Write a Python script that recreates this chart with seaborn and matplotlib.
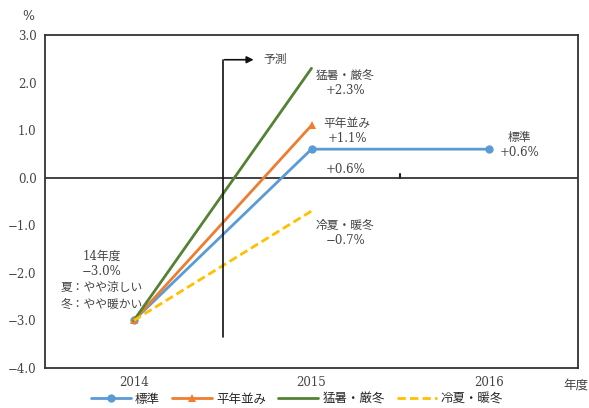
import matplotlib
matplotlib.use("Agg")
import matplotlib.pyplot as plt
import seaborn as sns
import pandas as pd

years = ["2014", "2015", "2016"]
series_names = ["標準", "平年並み", "猛暑・厳冬", "冷夏・暖冬"]
hyojun = [-3.0, 0.6, 0.6]
heinen = [-3.0, 1.1, None]
mosho = [-3.0, 2.3, None]
reika = [-3.0, -0.7, None]
yticks = [3.0, 2.0, 1.0, 0.0, -1.0, -2.0, -3.0, -4.0]

colors = ["#5B9BD5", "#ED7D31", "#548235", "#FFC000"]
markers = ["o", "^", None, None]
dashes = [None, None, None, (3, 1.5)]

sns.set_theme(style="white")
fam = ["DejaVu Serif", "Noto Sans CJK JP", "DejaVu Sans"]
plt.rcParams["font.family"] = fam
plt.rcParams["axes.unicode_minus"] = True

fig = plt.figure(figsize=(5.89, 4.08), dpi=100)
ax = fig.add_axes([45 / 589, 40 / 408, (578 - 45) / 589, (368 - 35) / 408])

handles = []
for name, vals, c, m, d in zip(series_names, [hyojun, heinen, mosho, reika], colors, markers, dashes):
    sub = pd.DataFrame({"年度": [y for y, v in zip(years, vals) if v is not None],
                        "値": [v for v in vals if v is not None]})
    kw = dict(color=c, linewidth=2, label=name)
    if m:
        kw.update(marker=m, markersize=6, markeredgewidth=0)
    if d:
        kw.update(linestyle=(0, d))
    sns.lineplot(data=sub, x="年度", y="値", ax=ax, legend=False, **kw)
    handles.append(ax.lines[-1])

ax.set_xlim(-0.5, 2.5)
ax.set_ylim(-4.0, 3.0)
ax.set_yticks(yticks)
ax.set_yticklabels([f"{v:.1f}".replace("-", "\u2212") for v in yticks], fontsize=8.5, color="#444444")
ax.set_xticks([0, 1, 2])
ax.set_xticklabels(years, fontsize=8.5, color="#444444")
ax.tick_params(axis="both", length=0, pad=6)
ax.set_xlabel("")
ax.set_ylabel("")
for s in ax.spines.values():
    s.set_color("#333333")
    s.set_linewidth(1.3)

ax.axhline(0, color="#222222", lw=1.2, zorder=1)
ax.plot([1.5, 1.5], [0, 0.07], color="#222222", lw=1.5)

# forecast marker
ax.plot([0.5, 0.5], [-3.34, 2.48], color="#111111", lw=1.2)
ax.annotate("", xy=(0.69, 2.48), xytext=(0.495, 2.48),
            arrowprops=dict(arrowstyle="-|>", color="#111111", lw=1.2, mutation_scale=10))
ax.text(0.73, 2.48, "予測", fontsize=8.5, va="center", ha="left", color="#444444")

tkw = dict(fontsize=8.5, ha="center", va="center", color="#444444", linespacing=1.2)
ax.text(1.19, 1.99, "猛暑・厳冬\n+2.3%", **tkw)
ax.text(1.2, 0.98, "平年並み\n+1.1%", **tkw)
ax.text(2.17, 0.68, "標準\n+0.6%", **tkw)
ax.text(1.19, 0.18, "+0.6%", **tkw)
ax.text(1.19, -1.16, "冷夏・暖冬\n\u22120.7%", **tkw)
ax.text(-0.18, -2.15, "14年度\n\u22123.0%\n夏：やや涼しい\n冬：やや暖かい", fontsize=8.5,
        ha="center", va="center", color="#444444", linespacing=1.3)

fig.text(28 / 589, 1 - 17 / 408, "%", fontsize=9, ha="center", va="center", color="#444444")
fig.text(576 / 589, 1 - 385 / 408, "年度", fontsize=9, ha="center", va="center", color="#444444")

ax.legend(handles=handles, labels=series_names,
          loc="center", bbox_to_anchor=(0.473, -0.094), ncol=4, frameon=False,
          fontsize=9, handlelength=3.2, columnspacing=1.0, handletextpad=0.3,
          borderpad=0)

fig.savefig("out.png", dpi=100)
